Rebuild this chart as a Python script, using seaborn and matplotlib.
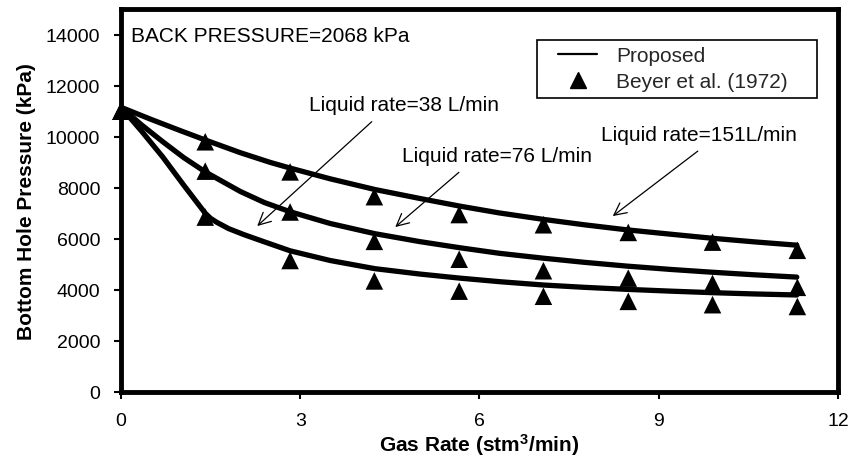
import matplotlib
matplotlib.use("Agg")
import matplotlib.pyplot as plt
from matplotlib.lines import Line2D
from matplotlib.legend_handler import HandlerLine2D
import numpy as np
import pandas as pd
import seaborn as sns

# Model curves (Proposed) for each liquid rate: gas rate (stm3/min) vs BHP (kPa)
curve_gas_38 = [0.0, 0.35, 0.7, 1.05, 1.41, 1.5, 1.6, 1.8, 2.05, 2.4, 2.83, 3.5, 4.25, 5.0,
                5.67, 6.34, 7.07, 7.75, 8.47, 9.2, 9.9, 10.6, 11.31]
curve_bhp_38 = [11150, 10200, 9200, 8100, 7000, 6800, 6650, 6400, 6170, 5880, 5530, 5150, 4830, 4620,
                4460, 4320, 4190, 4100, 4020, 3950, 3890, 3840, 3800]

curve_gas_76 = [0.0, 0.35, 0.7, 1.05, 1.41, 2.0, 2.4, 2.83, 3.5, 4.25, 5.0, 5.67, 6.34, 7.07,
                7.75, 8.47, 9.2, 9.9, 10.6, 11.31]
curve_bhp_76 = [11150, 10450, 9800, 9180, 8620, 7850, 7420, 7060, 6600, 6200, 5890, 5650, 5430, 5240,
                5080, 4930, 4800, 4690, 4590, 4500]

curve_gas_151 = [0.0, 0.5, 1.0, 1.41, 2.0, 2.5, 2.83, 3.5, 4.25, 5.0, 5.67, 6.34, 7.07, 7.75,
                 8.47, 9.2, 9.9, 10.6, 11.31]
curve_bhp_151 = [11150, 10680, 10230, 9870, 9370, 8990, 8770, 8350, 7930, 7580, 7280, 7010, 6760, 6550,
                 6350, 6180, 6020, 5880, 5750]

# Beyer et al. (1972) measurements
meas_gas = [0.0, 1.41, 2.83, 4.24, 5.66, 7.07, 8.49, 9.9, 11.32]
meas_bhp_38 = [11000, 6850, 5150, 4350, 3950, 3750, 3550, 3420, 3350]
meas_bhp_76 = [11000, 8650, 7050, 5900, 5200, 4750, 4460, 4250, 4100]
meas_bhp_151 = [11000, 9800, 8620, 7650, 6950, 6550, 6250, 5870, 5550]

rate_labels = ["38 L/min", "76 L/min", "151 L/min"]

curves = pd.concat([
    pd.DataFrame({"gas": curve_gas_38, "bhp": curve_bhp_38, "rate": rate_labels[0]}),
    pd.DataFrame({"gas": curve_gas_76, "bhp": curve_bhp_76, "rate": rate_labels[1]}),
    pd.DataFrame({"gas": curve_gas_151, "bhp": curve_bhp_151, "rate": rate_labels[2]}),
])
meas = pd.concat([
    pd.DataFrame({"gas": meas_gas, "bhp": meas_bhp_38, "rate": rate_labels[0]}),
    pd.DataFrame({"gas": meas_gas, "bhp": meas_bhp_76, "rate": rate_labels[1]}),
    pd.DataFrame({"gas": meas_gas, "bhp": meas_bhp_151, "rate": rate_labels[2]}),
])


class InsetLine(HandlerLine2D):
    """Legend handler that leaves an empty gap on the left of the handle box."""

    def __init__(self, inset, **kw):
        super().__init__(**kw)
        self.inset = inset

    def create_artists(self, legend, orig_handle, xdescent, ydescent, width, height, fontsize, trans):
        return super().create_artists(legend, orig_handle, xdescent - self.inset, ydescent,
                                      width - self.inset, height, fontsize, trans)


sns.set_theme(style="white")
plt.rcParams["font.family"] = ["Liberation Sans", "DejaVu Sans"]
plt.rcParams["mathtext.fontset"] = "custom"
plt.rcParams["mathtext.rm"] = "Liberation Sans:bold"
plt.rcParams["mathtext.default"] = "rm"

fig = plt.figure(figsize=(8.54, 4.6), dpi=100)
ax = fig.add_axes([121 / 854, 67 / 460, 717 / 854, 383 / 460])

black = {r: "black" for r in rate_labels}
sns.lineplot(data=curves, x="gas", y="bhp", hue="rate", palette=black,
             estimator=None, sort=False, linewidth=3.8, legend=False, ax=ax)
sns.scatterplot(data=meas, x="gas", y="bhp", hue="rate", palette=black,
                marker="^", s=160, linewidth=0, legend=False, ax=ax, clip_on=False, zorder=5)

ax.set_xlim(0, 12)
ax.set_ylim(0, 15000)
ax.set_xticks([0, 3, 6, 9, 12])
ax.set_yticks(np.arange(0, 14001, 2000))
ax.tick_params(axis="both", which="major", direction="out", length=5, width=1.5,
               color="black", labelsize=14, labelcolor="black", bottom=True, left=True)
ax.tick_params(axis="y", pad=10)
ax.tick_params(axis="x", pad=9.5)
for sp in ax.spines.values():
    sp.set_visible(True)
    sp.set_color("black")
    sp.set_linewidth(3.5)

ax.set_xlabel("Gas Rate (stm$^3$/min)", fontsize=15, fontweight="bold", color="black", labelpad=1.5)
ax.set_ylabel("Bottom Hole Pressure (kPa)", fontsize=15, fontweight="bold", color="black", labelpad=7)

ax.text(0.17, 13950, "BACK PRESSURE=2068 kPa", fontsize=15, color="black", va="center", ha="left")

arrow = dict(arrowstyle="->", color="black", lw=0.9, mutation_scale=22, shrinkA=5, shrinkB=0)
ax.annotate("Liquid rate=38 L/min", xy=(2.28, 6500), xytext=(4.74, 11270),
            fontsize=15, ha="center", va="center", color="black",
            arrowprops=dict(arrow, relpos=(0.375, 0.0)))
ax.annotate("Liquid rate=76 L/min", xy=(4.59, 6460), xytext=(6.30, 9280),
            fontsize=15, ha="center", va="center", color="black",
            arrowprops=dict(arrow, relpos=(0.345, 0.0)))
ax.annotate("Liquid rate=151L/min", xy=(8.23, 6890), xytext=(9.67, 10100),
            fontsize=15, ha="center", va="center", color="black",
            arrowprops=dict(arrow, relpos=(0.545, 0.0)))

line_handle = Line2D([], [], color="black", lw=1.6)
tri_handle = Line2D([], [], color="black", marker="^", linestyle="none", markersize=11)
inset = InsetLine(10.5)
leg = ax.legend([line_handle, tri_handle], ["Proposed", "Beyer et al. (1972)"],
                loc="upper left", mode="expand",
                bbox_to_anchor=(416 / 717, 0.3, 280 / 717, (393 - 41) / 383 - 0.3),
                fontsize=15, frameon=True, fancybox=False, edgecolor="black", framealpha=1,
                borderpad=0.3, handlelength=2.6, handletextpad=0.89, labelspacing=0.34,
                borderaxespad=0, handler_map={line_handle: inset, tri_handle: inset})
leg.get_frame().set_linewidth(1.2)

fig.savefig("out.png", dpi=100, facecolor="white")
